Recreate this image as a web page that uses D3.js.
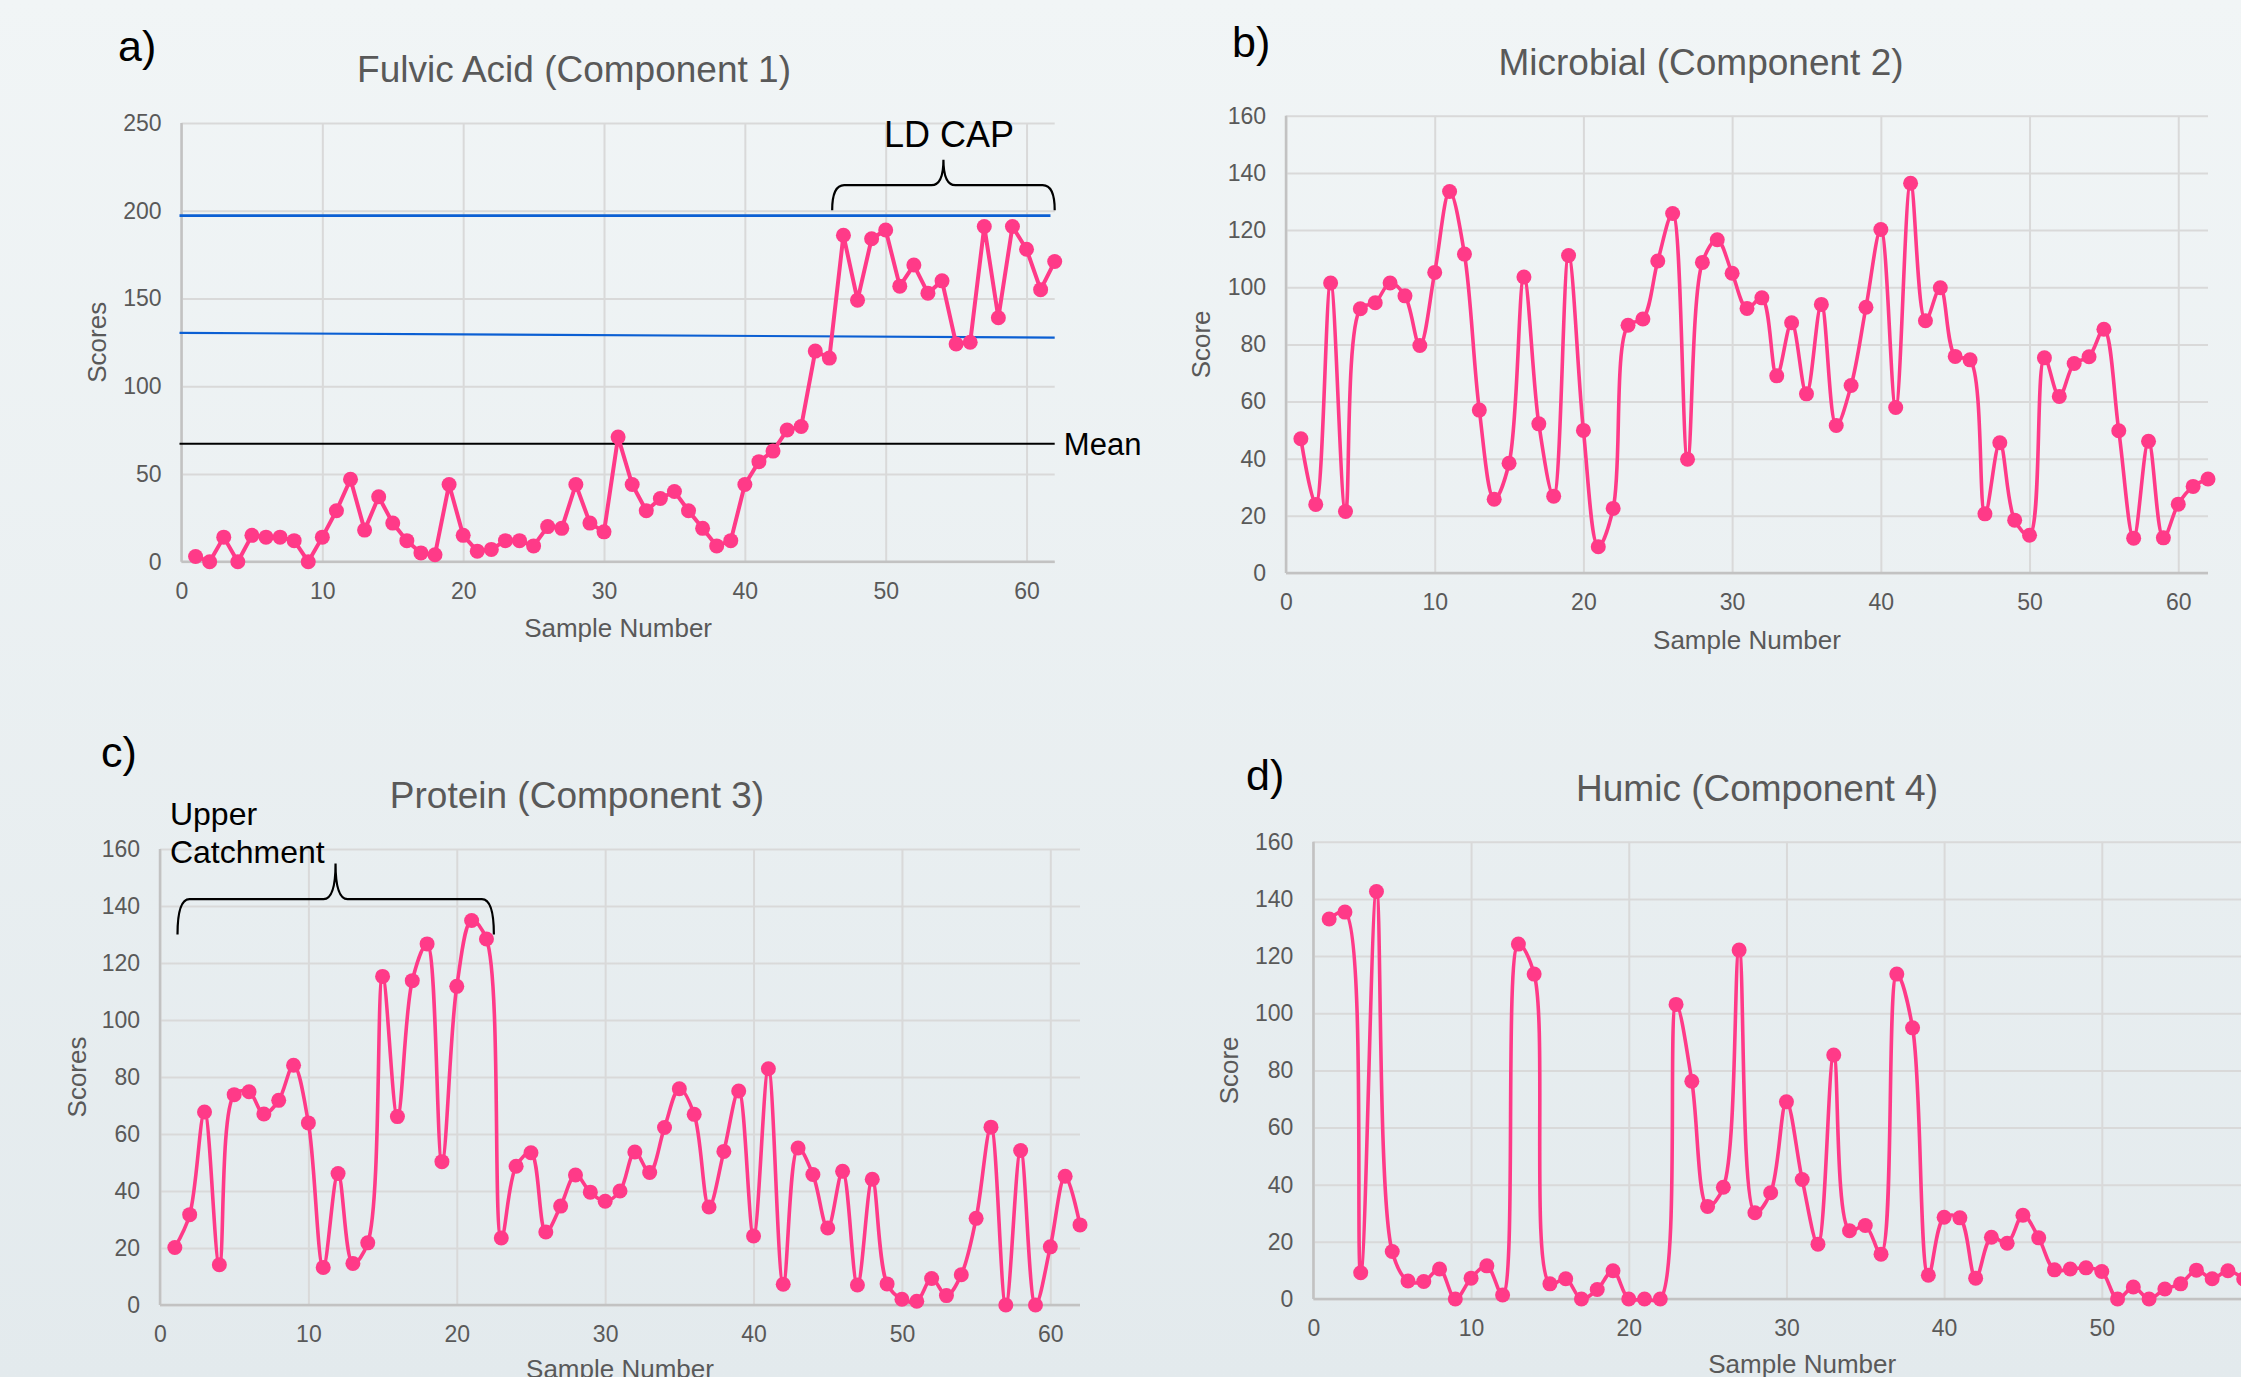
<!DOCTYPE html>
<html>
<head>
<meta charset="utf-8">
<script src="https://cdn.jsdelivr.net/npm/d3@7"></script>
<style>
    html, body { margin: 0; padding: 0; }
    body {
        width: 2241px; height: 1377px; overflow: hidden;
        background: linear-gradient(#f1f5f6, #e3eaed);
    }
    text { font-family: "Liberation Sans", Arial, sans-serif; }
</style>
</head>
<body>
<svg id="chart" width="2241" height="1377"></svg>
<script>
// Fluorescence component scores per sample, four panels

const xMax = 62;
const xTicks = [0, 10, 20, 30, 40, 50, 60];
const yTicksA = [0, 50, 100, 150, 200, 250];
const yTicks160 = [0, 20, 40, 60, 80, 100, 120, 140, 160];

// a) Fulvic Acid (Component 1), samples 1..62
const fulvic = [
    3, 0, 14, 0, 15, 14, 14, 12, 0, 14,
    29, 47, 18, 37, 22, 12, 5, 4, 44, 15,
    6, 7, 12, 12, 9, 20, 19, 44, 22, 17,
    71, 44, 29, 36, 40, 29, 19, 9, 12, 44,
    57, 63, 75, 77, 120, 116, 186, 149, 184, 189,
    157, 169, 153, 160, 124, 125, 191, 139, 191, 178,
    155, 171
];
// reference lines on panel a: [start, end] in sample / score units
const upperLineX = [0, 61.7], upperLineY = [197.2, 197.2];
const trendLineX = [0, 62], trendLineY = [130.4, 127.7];
const meanLineX = [0, 62], meanLineY = [67.2, 67.2];

// b) Microbial (Component 2)
const microbial = [
    47, 24, 101.5, 21.5, 92.5, 94.6, 101.5, 97, 79.6, 105.2,
    133.5, 111.6, 57, 25.8, 38.4, 103.6, 52.2, 26.9, 111.1, 49.9,
    9.2, 22.6, 86.7, 88.9, 109.2, 125.8, 39.8, 108.7, 116.6, 104.9,
    92.6, 96.3, 69, 87.6, 62.7, 94, 51.6, 65.6, 93, 120.2,
    57.9, 136.4, 88.3, 99.8, 75.8, 74.6, 20.7, 45.6, 18.5, 13.2,
    75.3, 61.8, 73.3, 75.7, 85.3, 49.8, 12.2, 46.1, 12.3, 24.1,
    30.3, 32.9
];

// c) Protein (Component 3)
const protein = [
    20.2, 31.7, 67.7, 14.1, 73.8, 74.8, 67, 71.8, 84.1, 63.9,
    13.2, 46.1, 14.6, 21.8, 115.3, 66.1, 113.8, 126.7, 50.3, 111.8,
    134.9, 128.4, 23.5, 48.7, 53.4, 25.6, 34.7, 45.6, 39.6, 36.4,
    40, 53.7, 46.5, 62.3, 75.9, 66.9, 34.4, 53.9, 75.1, 24.2,
    82.9, 7.3, 55.1, 45.8, 27, 46.9, 7, 44.1, 7.4, 2,
    1.3, 9.3, 3.3, 10.6, 30.4, 62.4, 0, 54.2, 0, 20.4,
    45.2, 28.1
];

// d) Humic (Component 4) - the picture is cut off after sample 59
const humic = [
    133, 135.4, 9.2, 142.6, 16.6, 6.3, 6.1, 10.5, 0, 7.3,
    11.6, 1.4, 124.2, 113.7, 5.3, 7.1, 0, 3.3, 9.9, 0,
    0, 0, 103.1, 76.2, 32.4, 39.1, 122.1, 30.2, 37.2, 69,
    41.8, 19.2, 85.4, 23.9, 25.7, 15.7, 113.7, 94.9, 8.3, 28.6,
    28.4, 7.3, 21.6, 19.5, 29.3, 21.4, 10.2, 10.5, 10.9, 9.6,
    0, 4.2, 0, 3.5, 5.3, 10.1, 7.1, 9.9, 7
];

const PINK = '#ff3a88';
const GRID = '#d9d9d9';
const AXIS = '#c2c2c2';
const LABEL = '#595959';
const DY = 3;   // small nudge so middle-aligned text sits like the original

const svg = d3.select('#chart');

function drawPanel(cfg) {
    const x = d3.scaleLinear().domain([0, xMax]).range([cfg.left, cfg.right]);
    const y = d3.scaleLinear().domain([0, cfg.yMax]).range([cfg.bottom, cfg.top]);
    const w = cfg.right - cfg.left, h = cfg.bottom - cfg.top;
    const g = svg.append('g');

    // gridlines
    g.append('g')
        .attr('transform', `translate(${cfg.left},0)`)
        .call(d3.axisLeft(y).tickValues(cfg.yTicks).tickSize(-w).tickFormat(''))
        .call(s => s.select('.domain').remove())
        .call(s => s.selectAll('line').attr('stroke', GRID).attr('stroke-width', 2));
    g.append('g')
        .attr('transform', `translate(0,${cfg.bottom})`)
        .call(d3.axisBottom(x).tickValues(xTicks).tickSize(-h).tickFormat(''))
        .call(s => s.select('.domain').remove())
        .call(s => s.selectAll('line').attr('stroke', GRID).attr('stroke-width', 2));

    // axis lines
    g.append('line').attr('x1', cfg.left).attr('x2', cfg.left)
        .attr('y1', cfg.top).attr('y2', cfg.bottom)
        .attr('stroke', AXIS).attr('stroke-width', 2.5);
    g.append('line').attr('x1', cfg.left).attr('x2', cfg.right)
        .attr('y1', cfg.bottom).attr('y2', cfg.bottom)
        .attr('stroke', AXIS).attr('stroke-width', 2.5);

    // tick labels
    g.append('g')
        .attr('transform', `translate(${cfg.left},0)`)
        .call(d3.axisLeft(y).tickValues(cfg.yTicks).tickSize(0).tickPadding(20))
        .call(s => s.select('.domain').remove())
        .call(s => s.selectAll('text').attr('fill', LABEL).style('font-size', '23px')
            .style('font-family', '"Liberation Sans", Arial, sans-serif'));
    g.append('g')
        .attr('transform', `translate(0,${cfg.bottom})`)
        .call(d3.axisBottom(x).tickValues(xTicks).tickSize(0).tickPadding(21))
        .call(s => s.select('.domain').remove())
        .call(s => s.selectAll('text').attr('fill', LABEL).style('font-size', '23px')
            .style('font-family', '"Liberation Sans", Arial, sans-serif'));

    // titles
    g.append('text').attr('x', cfg.titleX).attr('y', cfg.titleY + DY)
        .attr('text-anchor', 'middle').attr('dominant-baseline', 'middle')
        .attr('fill', LABEL).style('font-size', '37px').text(cfg.title);
    g.append('text').attr('x', cfg.tagX).attr('y', cfg.tagY + DY)
        .attr('dominant-baseline', 'middle')
        .attr('fill', '#000').style('font-size', '43px').text(cfg.tag);
    g.append('text')
        .attr('transform', `translate(${cfg.yTitleX},${(cfg.top + cfg.bottom) / 2}) rotate(-90)`)
        .attr('text-anchor', 'middle').attr('dominant-baseline', 'middle')
        .attr('fill', LABEL).style('font-size', '26px').text(cfg.yTitle);
    g.append('text').attr('x', (cfg.left + cfg.right) / 2).attr('y', cfg.xTitleY + DY)
        .attr('text-anchor', 'middle').attr('dominant-baseline', 'middle')
        .attr('fill', LABEL).style('font-size', '26px').text('Sample Number');

    // reference lines go in here, under the series
    const refs = g.append('g');

    // series
    const line = d3.line()
        .x((d, i) => x(i + 1))
        .y(d => y(d))
        .curve(cfg.smooth ? d3.curveCatmullRom.alpha(0.5) : d3.curveLinear);

    const series = g.append('g');
    series.append('path').datum(cfg.values)
        .attr('d', line)
        .attr('fill', 'none')
        .attr('stroke', PINK)
        .attr('stroke-width', cfg.lineWidth)
        .attr('stroke-linejoin', 'round');
    series.selectAll('circle').data(cfg.values).join('circle')
        .attr('cx', (d, i) => x(i + 1))
        .attr('cy', d => y(d))
        .attr('r', 7.5)
        .attr('fill', PINK);

    return { x, y, g, refs };
}

// curly brace opening downward, drawn in data units through the scales
function brace(p, x0, x1, xm, yEnd, yBar, yTip) {
    const r = 12;
    const X0 = p.x(x0), X1 = p.x(x1), XM = p.x(xm);
    const YE = p.y(yEnd), YB = p.y(yBar), YT = p.y(yTip);
    const d = `M${X0},${YE} Q${X0},${YB} ${X0 + r},${YB} L${XM - r},${YB} Q${XM},${YB} ${XM},${YT}` +
        ` Q${XM},${YB} ${XM + r},${YB} L${X1 - r},${YB} Q${X1},${YB} ${X1},${YE}`;
    p.g.append('path').attr('d', d).attr('fill', 'none')
        .attr('stroke', '#000').attr('stroke-width', 2.2);
}

const pa = drawPanel({
    left: 181.5, right: 1054.7, top: 122.9, bottom: 561.7,
    yMax: 250, yTicks: yTicksA, values: fulvic, smooth: false, lineWidth: 4,
    title: 'Fulvic Acid (Component 1)', titleX: 574, titleY: 69,
    tag: 'a)', tagX: 118, tagY: 47,
    yTitle: 'Scores', yTitleX: 99, xTitleY: 627
});

[[upperLineX, upperLineY, '#0b5fd3', 2.8], [trendLineX, trendLineY, '#0b5fd3', 2.2],
 [meanLineX, meanLineY, '#000', 2.2]].forEach(([xs, ys, col, sw]) => {
    pa.refs.append('line')
        .attr('x1', pa.x(xs[0]) - 2).attr('x2', pa.x(xs[1]))
        .attr('y1', pa.y(ys[0])).attr('y2', pa.y(ys[1]))
        .attr('stroke', col).attr('stroke-width', sw);
});
pa.g.append('text').attr('x', pa.x(62.65)).attr('y', pa.y(67.4) + DY)
    .attr('dominant-baseline', 'middle').style('font-size', '31px').attr('fill', '#000')
    .text('Mean');
brace(pa, 46.2, 62, 54.1, 200.2, 214.5, 229);
pa.g.append('text').attr('x', pa.x(54.5)).attr('y', pa.y(243.5) + DY)
    .attr('text-anchor', 'middle').attr('dominant-baseline', 'middle')
    .style('font-size', '36px').attr('fill', '#000').text('LD CAP');

drawPanel({
    left: 1286, right: 2208, top: 115.8, bottom: 573,
    yMax: 160, yTicks: yTicks160, values: microbial, smooth: true, lineWidth: 3.6,
    title: 'Microbial (Component 2)', titleX: 1701, titleY: 62,
    tag: 'b)', tagX: 1232, tagY: 43,
    yTitle: 'Score', yTitleX: 1203, xTitleY: 639
});

const pc = drawPanel({
    left: 160, right: 1080, top: 849, bottom: 1305,
    yMax: 160, yTicks: yTicks160, values: protein, smooth: true, lineWidth: 3.6,
    title: 'Protein (Component 3)', titleX: 577, titleY: 795,
    tag: 'c)', tagX: 101, tagY: 753,
    yTitle: 'Scores', yTitleX: 79, xTitleY: 1368
});
brace(pc, 1.18, 22.5, 11.83, 130, 142.4, 154.9);
pc.g.append('text').attr('x', pc.x(0.67)).attr('y', pc.y(172.6) + DY)
    .attr('dominant-baseline', 'middle').style('font-size', '32px').attr('fill', '#000')
    .text('Upper');
pc.g.append('text').attr('x', pc.x(0.67)).attr('y', pc.y(159) + DY)
    .attr('dominant-baseline', 'middle').style('font-size', '32px').attr('fill', '#000')
    .text('Catchment');

drawPanel({
    left: 1313.4, right: 2291, top: 841.8, bottom: 1299,
    yMax: 160, yTicks: yTicks160, values: humic, smooth: true, lineWidth: 3.6,
    title: 'Humic (Component 4)', titleX: 1757, titleY: 788,
    tag: 'd)', tagX: 1246, tagY: 776,
    yTitle: 'Score', yTitleX: 1231, xTitleY: 1363
});
</script>
</body>
</html>
